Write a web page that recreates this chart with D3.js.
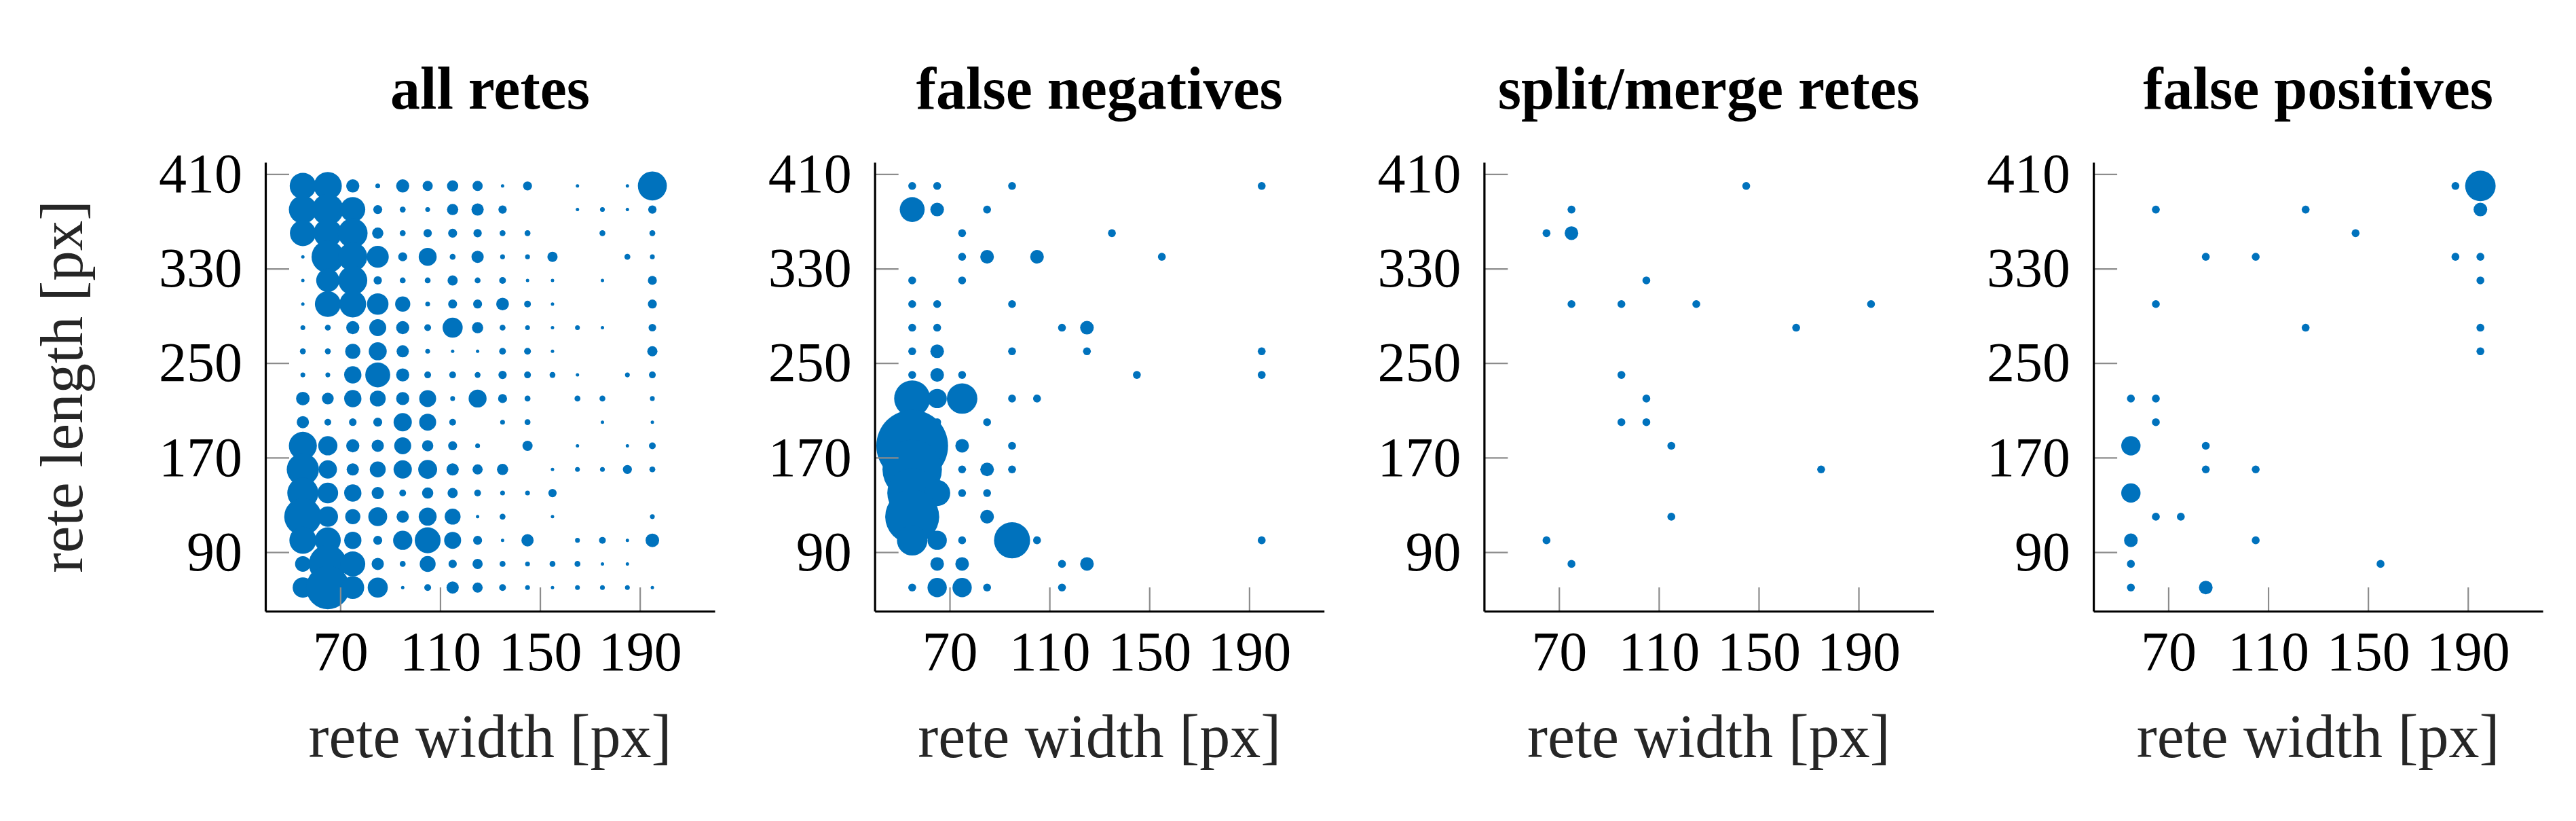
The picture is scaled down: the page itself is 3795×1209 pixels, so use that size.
<!DOCTYPE html>
<html>
<head>
<meta charset="utf-8">
<script src="https://cdn.jsdelivr.net/npm/d3@7"></script>
<style>
  html, body { margin: 0; padding: 0; background: #ffffff; }
  svg { display: block; }
</style>
</head>
<body>
<script>
// ---------- data ----------
const panelTitles = ["all retes", "false negatives", "split/merge retes", "false positives"];
const xTicks = [70, 110, 150, 190];
const yTicks = [90, 170, 250, 330, 410];
const xLabel = "rete width [px]";
const yLabel = "rete length [px]";

// bin centres of the "all retes" grid
const widthBins = [55, 65, 75, 85, 95, 105, 115, 125, 135, 145, 155, 165, 175, 185, 195];
const lengthBins = [400, 380, 360, 340, 320, 300, 280, 260, 240, 220, 200, 180, 160, 140, 120, 100, 80, 60];

// counts per (length row, width column); 0 = no retes
const allRetesCounts = [
  [60, 68, 15, 2, 15, 9, 11, 9, 1, 7, 0, 1, 0, 1, 73],
  [68, 85, 54, 7, 3, 2, 11, 13, 6, 0, 0, 1, 2, 1, 6],
  [58, 70, 76, 11, 3, 6, 7, 6, 3, 3, 0, 0, 3, 0, 3],
  [1, 92, 73, 42, 7, 28, 3, 13, 2, 2, 9, 0, 0, 3, 2],
  [1, 47, 73, 6, 3, 3, 9, 3, 4, 1, 1, 0, 1, 0, 7],
  [1, 58, 62, 40, 20, 2, 7, 7, 14, 4, 1, 0, 0, 0, 7],
  [2, 3, 15, 25, 15, 4, 35, 11, 3, 2, 1, 2, 1, 0, 5],
  [3, 3, 20, 28, 13, 2, 1, 1, 4, 4, 1, 0, 0, 0, 9],
  [2, 2, 26, 54, 15, 4, 4, 3, 6, 4, 3, 1, 0, 2, 4],
  [16, 12, 26, 22, 15, 25, 2, 28, 7, 3, 0, 3, 3, 0, 2],
  [13, 4, 5, 7, 29, 25, 4, 0, 2, 3, 0, 0, 1, 0, 1],
  [68, 32, 15, 13, 25, 11, 7, 2, 0, 9, 0, 1, 0, 1, 4],
  [90, 29, 13, 22, 29, 31, 13, 9, 11, 0, 1, 2, 2, 7, 3],
  [84, 37, 26, 13, 4, 11, 9, 4, 2, 2, 6, 0, 0, 0, 0],
  [120, 36, 20, 31, 13, 28, 22, 1, 3, 0, 1, 0, 0, 0, 2],
  [63, 58, 26, 7, 32, 58, 25, 7, 1, 13, 0, 2, 4, 1, 16],
  [21, 125, 54, 13, 3, 22, 6, 9, 3, 2, 3, 3, 1, 1, 0],
  [36, 164, 45, 35, 1, 4, 13, 9, 4, 2, 1, 2, 2, 2, 1]
];

// [width, length, count]
const falseNegatives = [
  [55,400,1],[65,400,1],[95,400,1],[195,400,1],
  [55,380,10],[65,380,3],[85,380,1],
  [75,360,1],[135,360,1],
  [75,340,1],[85,340,3],[105,340,3],[155,340,1],
  [55,320,1],[75,320,1],
  [55,300,1],[65,300,1],[95,300,1],
  [55,280,1],[65,280,1],[115,280,1],[125,280,3],
  [55,260,1],[65,260,3],[95,260,1],[125,260,1],[195,260,1],
  [55,240,1],[65,240,3],[75,240,1],[145,240,1],[195,240,1],
  [55,220,21],[65,220,6],[75,220,15],[95,220,1],[105,220,1],
  [65,200,1],[85,200,1],
  [55,180,83],[75,180,3],[95,180,1],
  [55,160,57],[75,160,1],[85,160,3],[95,160,1],
  [55,140,40],[65,140,11],[75,140,1],[85,140,1],
  [55,120,47],[85,120,3],
  [55,100,15],[65,100,6],[75,100,1],[95,100,21],[105,100,1],[195,100,1],
  [65,80,3],[75,80,3],[115,80,1],[125,80,3],
  [55,60,1],[65,60,6],[75,60,6],[85,60,1],[115,60,1]
];

const splitMerge = [
  [145,400,1],[75,380,1],[65,360,1],[75,360,3],[105,320,1],
  [75,300,1],[95,300,1],[125,300,1],[195,300,1],[165,280,1],
  [95,240,1],[105,220,1],[95,200,1],[105,200,1],[115,180,1],
  [175,160,1],[115,120,1],[65,100,1],[75,80,1]
];

const falsePositives = [
  [185,400,1],[195,400,15],
  [65,380,1],[125,380,1],[195,380,3],
  [145,360,1],
  [85,340,1],[105,340,1],[185,340,1],[195,340,1],
  [195,320,1],
  [65,300,1],
  [125,280,1],[195,280,1],
  [195,260,1],
  [55,220,1],[65,220,1],
  [65,200,1],
  [55,180,6],[85,180,1],
  [85,160,1],[105,160,1],
  [55,140,6],
  [65,120,1],[75,120,1],
  [55,100,3],[105,100,1],
  [55,80,1],[155,80,1],
  [55,60,1],[85,60,3]
];

// ---------- build point lists ----------
const allRetes = [];
lengthBins.forEach((len, i) => {
  widthBins.forEach((w, j) => {
    const c = allRetesCounts[i][j];
    if (c > 0) allRetes.push([w, len, c]);
  });
});
const panelData = [allRetes, falseNegatives, splitMerge, falsePositives];
const panelUnitRadius = [2.5, 5.8, 5.8, 5.8];

// ---------- layout ----------
const W = 3795, H = 1209;
const panelLeft0 = 391, panelStep = 897.7, plotW = 662;
const plotTop = 239, plotBottom = 900;
const serif = "'Liberation Serif', 'Times New Roman', serif";
const blue = "#0072BD";

const svg = d3.select("body").append("svg")
  .attr("width", W).attr("height", H)
  .attr("viewBox", `0 0 ${W} ${H}`);

svg.append("rect").attr("width", W).attr("height", H).attr("fill", "#fff");

panelData.forEach((pts, p) => {
  const left = panelLeft0 + p * panelStep;
  const x = d3.scaleLinear().domain([40, 220]).range([left, left + plotW]);
  const y = d3.scaleLinear().domain([40, 420]).range([plotBottom, plotTop]);
  const maxC = d3.max(pts, d => d[2]);
  const r = d3.scaleSqrt().domain([0, maxC]).range([0, panelUnitRadius[p] * Math.sqrt(maxC)]);

  const g = svg.append("g");

  // points
  g.append("g").selectAll("circle")
    .data(pts)
    .join("circle")
    .attr("cx", d => x(d[0]))
    .attr("cy", d => y(d[1]))
    .attr("r", d => r(d[2]))
    .attr("fill", blue);

  // axes
  const yAxis = d3.axisLeft(y).tickValues(yTicks).tickSizeInner(-35).tickSizeOuter(0).tickPadding(34);
  const xAxis = d3.axisBottom(x).tickValues(xTicks).tickSizeInner(-35).tickSizeOuter(0).tickPadding(29);

  const ya = g.append("g").attr("transform", `translate(${left},0)`).call(yAxis);
  const xa = g.append("g").attr("transform", `translate(0,${plotBottom})`).call(xAxis);

  [ya, xa].forEach(a => {
    a.attr("font-family", serif).attr("font-size", 82);
    a.selectAll(".tick line").attr("stroke", "#8c8c8c").attr("stroke-width", 2.2);
    a.selectAll(".tick text").attr("fill", "#000");
    a.select(".domain").attr("stroke", "#000").attr("stroke-width", 3.2);
  });
  // keep axis lines above ticks
  ya.select(".domain").raise();
  xa.select(".domain").raise();

  // title
  g.append("text")
    .attr("x", left + plotW / 2).attr("y", 160)
    .attr("text-anchor", "middle")
    .attr("font-family", serif).attr("font-weight", "bold").attr("font-size", 88)
    .attr("fill", "#000")
    .text(panelTitles[p]);

  // x label
  g.append("text")
    .attr("x", left + plotW / 2).attr("y", 1115)
    .attr("text-anchor", "middle")
    .attr("font-family", serif).attr("font-size", 90)
    .attr("fill", "#262626")
    .text(xLabel);

  if (p === 0) {
    g.append("text")
      .attr("transform", `translate(121,${(plotTop + plotBottom) / 2}) rotate(-90)`)
      .attr("text-anchor", "middle")
      .attr("font-family", serif).attr("font-size", 89)
      .attr("fill", "#262626")
      .text(yLabel);
  }
});
</script>
</body>
</html>
